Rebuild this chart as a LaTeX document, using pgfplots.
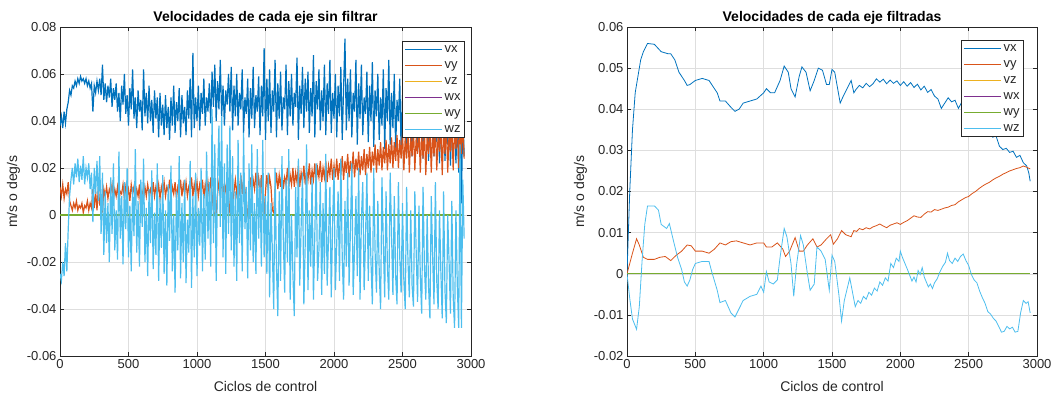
\documentclass[border=0pt]{standalone}
\usepackage{pgfplots}
\pgfplotsset{compat=1.18}
\usepackage{fontspec}
\setmainfont{Liberation Sans}
\definecolor{cvx}{HTML}{0072BD}
\definecolor{cvy}{HTML}{D95319}
\definecolor{cvz}{HTML}{EDB120}
\definecolor{cwx}{HTML}{7E2F8E}
\definecolor{cwy}{HTML}{77AC30}
\definecolor{cwz}{HTML}{4DBEEE}
\definecolor{axc}{HTML}{262626}
\pgfplotsset{
 mystyle/.style={
  width=411pt, height=329pt, scale only axis,
  axis line style={axc, line width=0.6pt},
  tick style={axc, line width=0.6pt}, major tick length=4pt,
  grid=major, major grid style={black!13, line width=0.5pt},
  ticklabel style={font=\fontsize{13}{15}\selectfont, text=axc},
  /pgf/number format/assume math mode=true,
  /pgf/number format/1000 sep={},
  scaled y ticks=false,
  xmin=0, xmax=3000, xtick={0,500,...,3000},
  xlabel={Ciclos de control}, ylabel={m/s o deg/s},
  label style={font=\fontsize{14}{16}\selectfont, text=axc},
  xlabel style={yshift=-6pt},
  title style={font=\bfseries\fontsize{14}{16}\selectfont, text=black, at={(0.5,1)}, anchor=south, yshift=-7pt},
  legend style={draw=axc, line width=0.6pt, font=\fontsize{13}{15}\selectfont, text=axc, inner sep=2pt, row sep=3.6pt},
  legend cell align=left,
  legend image code/.code={\draw[#1, line width=1pt] (0pt,0pt) -- (37pt,0pt);},
  every axis plot/.append style={line width=0.8pt},
 }}
\begin{document}
\begin{tikzpicture}
\path[use as bounding box] (0pt,0pt) rectangle (1062pt,-399pt);
\begin{axis}[mystyle, at={(60pt,-356pt)}, anchor=south west,
  ymin=-0.06, ymax=0.08, ytick={-0.06,-0.04,-0.02,0,0.02,0.04,0.06,0.08},
  yticklabel style={/pgf/number format/fixed, /pgf/number format/precision=2},
  title={Velocidades de cada eje sin filtrar},
  legend style={at={(0.985,0.957)}, anchor=north east},
  every axis plot/.append style={line width=1.2pt}]
\addplot[cvx] table[x=x, y expr=\thisrow{y}/1000] {
x y
0 38
10 42
20 37
30 44
40 39
50 45
60 48
70 53
80 51
90 55
100 54
110 57
120 55
130 58
140 56
150 59
160 57
170 58
180 56
190 58
200 55
210 57
220 54
230 56
240 44
250 55
260 52
270 57
280 53
290 58
300 51
310 64
320 49
330 56
340 48
350 55
360 50
370 58
380 46
390 54
400 49
410 56
420 44
430 52
440 40
450 55
460 47
470 60
480 43
490 51
500 38
510 54
520 45
530 62
540 41
550 50
560 37
570 53
580 44
590 49
600 36
610 62
620 42
630 52
640 39
650 55
660 40
670 49
680 35
690 53
700 41
710 50
720 33
730 52
740 38
750 47
760 34
770 51
780 37
790 46
800 32
810 50
820 38
830 55
840 35
850 48
860 40
870 54
880 33
890 51
900 39
910 46
920 34
930 53
940 41
950 58
960 33
970 69
980 37
990 50
1000 40
1010 55
1020 36
1030 52
1040 43
1050 58
1060 38
1070 50
1080 44
1090 56
1100 39
1110 61
1120 46
1130 64
1140 40
1150 57
1160 45
1170 66
1180 42
1190 55
1200 38
1210 53
1220 47
1230 60
1240 44
1250 63
1260 36
1270 55
1280 42
1290 60
1300 38
1310 52
1320 45
1330 62
1340 35
1350 50
1360 43
1370 58
1380 33
1390 54
1400 41
1410 63
1420 37
1430 51
1440 44
1450 59
1460 34
1470 55
1480 42
1490 71
1500 32
1510 58
1520 40
1530 62
1540 35
1550 53
1560 44
1570 66
1580 33
1590 56
1600 41
1610 61
1620 36
1630 50
1640 45
1650 64
1660 34
1670 57
1680 42
1690 60
1700 38
1710 52
1720 46
1730 67
1740 32
1750 55
1760 43
1770 63
1780 37
1790 58
1800 44
1810 61
1820 35
1830 54
1840 42
1850 68
1860 33
1870 57
1880 45
1890 62
1900 36
1910 53
1920 40
1930 64
1940 34
1950 56
1960 43
1970 66
1980 35
1990 52
2000 41
2010 60
2020 33
2030 55
2040 42
2050 63
2060 32
2070 54
2080 75
2090 36
2100 58
2110 40
2120 62
2130 33
2140 52
2150 44
2160 66
2170 30
2180 56
2190 41
2200 64
2210 34
2220 50
2230 43
2240 61
2250 31
2260 55
2270 40
2280 65
2290 29
2300 53
2310 42
2320 60
2330 32
2340 50
2350 38
2360 62
2370 28
2380 54
2390 40
2400 66
2410 30
2420 52
2430 37
2440 60
2450 28
2460 49
2470 40
2480 58
2490 27
2500 51
2510 36
2520 57
2530 26
2540 48
2550 38
2560 56
2570 25
2580 47
2590 35
2600 55
2610 27
2620 45
2630 37
2640 54
2650 24
2660 46
2670 33
2680 53
2690 23
2700 44
2710 36
2720 52
2730 25
2740 43
2750 31
2760 50
2770 22
2780 42
2790 34
2800 49
2810 23
2820 40
2830 30
2840 47
2850 21
2860 41
2870 33
2880 45
2890 22
2900 43
2910 18
2920 48
2930 5
2940 44
2950 25
};
\addplot[cvy] table[x=x, y expr=\thisrow{y}/1000] {
x y
0 12
10 8
20 13
30 7
40 11
50 9
60 14
70 6
80 4
90 2
100 5
110 3
120 6
130 2
140 4
150 3
160 5
170 1
180 4
190 3
200 6
210 2
220 5
230 3
240 11
250 3
260 10
270 2
280 12
290 4
300 9
310 1
320 11
330 8
340 12
350 7
360 11
370 9
380 13
390 7
400 11
410 8
420 12
430 6
440 10
450 9
460 13
470 7
480 12
490 8
500 11
510 6
520 13
530 9
540 12
550 7
560 11
570 8
580 13
590 0
600 10
610 7
620 12
630 8
640 13
650 9
660 11
670 7
680 14
690 8
700 12
710 9
720 13
730 7
740 12
750 9
760 14
770 8
780 12
790 10
800 15
810 8
820 12
830 9
840 14
850 7
860 12
870 10
880 15
890 8
900 13
910 9
920 14
930 8
940 12
950 10
960 16
970 8
980 13
990 9
1000 14
1010 8
1020 13
1030 10
1040 15
1050 7
1060 13
1070 9
1080 14
1090 8
1100 16
1110 9
1120 2
1130 0
1140 1
1150 9
1160 14
1170 8
1180 16
1190 9
1200 13
1210 10
1220 17
1230 8
1240 1
1250 0
1260 2
1270 10
1280 15
1290 9
1300 14
1310 10
1320 17
1330 9
1340 15
1350 11
1360 3
1370 0
1380 9
1390 16
1400 10
1410 15
1420 11
1430 18
1440 10
1450 16
1460 11
1470 17
1480 2
1490 0
1500 10
1510 17
1520 11
1530 16
1540 12
1550 2
1560 1
1570 11
1580 18
1590 11
1600 17
1610 12
1620 19
1630 11
1640 16
1650 13
1660 20
1670 12
1680 17
1690 13
1700 20
1710 12
1720 18
1730 14
1740 21
1750 12
1760 18
1770 14
1780 21
1790 13
1800 19
1810 15
1820 22
1830 13
1840 19
1850 15
1860 22
1870 14
1880 20
1890 16
1900 23
1910 14
1920 20
1930 16
1940 23
1950 14
1960 21
1970 17
1980 24
1990 15
2000 21
2010 16
2020 24
2030 15
2040 22
2050 17
2060 25
2070 15
2080 23
2090 18
2100 26
2110 16
2120 23
2130 18
2140 27
2150 16
2160 24
2170 19
2180 27
2190 17
2200 25
2210 19
2220 28
2230 17
2240 26
2250 20
2260 29
2270 18
2280 27
2290 21
2300 30
2310 18
2320 28
2330 21
2340 31
2350 19
2360 29
2370 22
2380 32
2390 19
2400 30
2410 22
2420 33
2430 20
2440 31
2450 23
2460 34
2470 20
2480 32
2490 24
2500 35
2510 19
2520 33
2530 24
2540 36
2550 18
2560 34
2570 25
2580 37
2590 19
2600 33
2610 26
2620 38
2630 18
2640 35
2650 24
2660 37
2670 17
2680 34
2690 26
2700 38
2710 18
2720 36
2730 25
2740 39
2750 19
2760 34
2770 27
2780 38
2790 17
2800 36
2810 26
2820 40
2830 18
2840 35
2850 27
2860 39
2870 19
2880 37
2890 28
2900 41
2910 20
2920 38
2930 26
2940 40
2950 24
};
\addplot[cvz, line width=0.8pt] coordinates {(0,0)(2950,0)};
\addplot[cwx, line width=0.8pt] coordinates {(0,0)(2950,0)};
\addplot[cwy, line width=1.4pt] coordinates {(0,0)(2950,0)};
\addplot[cwz] table[x=x, y expr=\thisrow{y}/1000] {
x y
0 -25
10 -28
20 -20
30 -26
40 -12
50 -24
60 -6
70 8
80 15
90 20
100 13
110 22
120 16
130 24
140 14
150 21
160 15
170 25
180 13
190 20
200 16
210 22
220 11
230 18
240 -3
250 20
260 9
270 23
280 6
290 25
300 -8
310 18
320 -17
330 10
340 -12
350 5
360 -20
370 16
380 -8
390 22
400 -15
410 2
420 -19
430 27
440 -10
450 8
460 -21
470 14
480 -6
490 20
500 -18
510 4
520 -24
530 12
540 -9
550 28
560 -16
570 6
580 -22
590 15
600 -5
610 24
620 -20
630 3
640 -26
650 11
660 -12
670 19
680 -23
690 1
700 -17
710 22
720 -28
730 7
740 -14
750 17
760 -25
770 2
780 -30
790 13
800 -11
810 21
820 -24
830 0
840 -33
850 10
860 -15
870 25
880 -27
890 5
900 -20
910 15
920 -29
930 -2
940 -16
950 23
960 -31
970 8
980 -18
990 18
1000 -26
1010 3
1020 -13
1030 20
1040 -24
1050 9
1060 -19
1070 27
1080 -10
1090 14
1100 -22
1110 45
1120 -12
1130 30
1140 -28
1150 15
1160 38
1170 -5
1180 42
1190 -18
1200 22
1210 -25
1220 30
1230 -8
1240 38
1250 -15
1260 25
1270 -22
1280 10
1290 -28
1300 32
1310 -12
1320 18
1330 -24
1340 35
1350 -6
1360 12
1370 -27
1380 22
1390 -15
1400 30
1410 -20
1420 5
1430 -25
1440 28
1450 -10
1460 15
1470 -22
1480 32
1490 -18
1500 8
1510 -25
1520 18
1530 -35
1540 5
1550 -15
1560 -40
1570 20
1580 -22
1590 -43
1600 10
1610 -28
1620 25
1630 -10
1640 -33
1650 15
1660 -20
1670 28
1680 -36
1690 0
1700 -25
1710 -43
1720 12
1730 -18
1740 24
1750 -30
1760 -5
1770 18
1780 -38
1790 -12
1800 30
1810 -32
1820 2
1830 -22
1840 16
1850 -36
1860 -8
1870 22
1880 -28
1890 -15
1900 14
1910 -34
1920 5
1930 -25
1940 26
1950 -30
1960 -10
1970 12
1980 -35
1990 -4
2000 20
2010 -32
2020 -12
2030 10
2040 -28
2050 24
2060 -18
2070 -36
2080 6
2090 -22
2100 18
2110 -30
2120 -6
2130 22
2140 -34
2150 -14
2160 8
2170 -26
2180 20
2190 -36
2200 -2
2210 14
2220 -32
2230 -10
2240 18
2250 -28
2260 4
2270 -20
2280 -38
2290 20
2300 -16
2310 -33
2320 6
2330 -24
2340 -40
2350 16
2360 -12
2370 -35
2380 10
2390 -22
2400 -36
2410 18
2420 -8
2430 -34
2440 8
2450 -26
2460 -38
2470 14
2480 -18
2490 -33
2500 5
2510 -28
2520 -40
2530 12
2540 -20
2550 -35
2560 2
2570 -30
2580 -39
2590 10
2600 -16
2610 -37
2620 4
2630 -26
2640 -42
2650 12
2660 -22
2670 -36
2680 0
2690 -30
2700 -44
2710 8
2720 -18
2730 -38
2740 14
2750 -28
2760 -40
2770 2
2780 -24
2790 -44
2800 10
2810 -32
2820 -46
2830 0
2840 -20
2850 -42
2860 6
2870 -35
2880 -48
2890 2
2900 -30
2910 -48
2920 30
2930 -48
2940 15
2950 -10
};
\legend{vx,vy,vz,wx,wy,wz}
\end{axis}
\begin{axis}[mystyle, at={(627pt,-356pt)}, anchor=south west, width=410pt,
  ymin=-0.02, ymax=0.06, ytick={-0.02,-0.01,0,0.01,0.02,0.03,0.04,0.05,0.06},
  yticklabel style={/pgf/number format/fixed, /pgf/number format/precision=2},
  title={Velocidades de cada eje filtradas},
  legend style={at={(0.968,0.960)}, anchor=north east}]
\addplot[cvx] coordinates {(0,0)(20,0.020)(40,0.035)(60,0.044)(80,0.048)(100,0.052)(120,0.054)(150,0.056)(200,0.0558)(250,0.054)(300,0.0535)(320,0.0535)(350,0.052)(380,0.049)(420,0.047)(440,0.0458)(460,0.046)(500,0.047)(550,0.0475)(600,0.047)(620,0.046)(660,0.044)(680,0.042)(720,0.042)(760,0.0405)(790,0.0395)(820,0.040)(850,0.0415)(900,0.042)(950,0.0425)(1000,0.044)(1020,0.045)(1050,0.044)(1080,0.044)(1120,0.047)(1150,0.0505)(1180,0.049)(1200,0.045)(1230,0.043)(1260,0.048)(1280,0.0503)(1310,0.049)(1340,0.0445)(1370,0.047)(1400,0.050)(1430,0.0495)(1460,0.046)(1480,0.046)(1500,0.0497)(1520,0.049)(1560,0.0415)(1580,0.043)(1610,0.045)(1640,0.047)(1660,0.044)(1675,0.0448)(1700,0.0458)(1725,0.0452)(1750,0.0463)(1775,0.0455)(1800,0.0462)(1825,0.0474)(1850,0.0466)(1875,0.0473)(1900,0.0462)(1925,0.0471)(1950,0.0463)(1975,0.0469)(2000,0.0458)(2025,0.0467)(2050,0.0456)(2075,0.0465)(2100,0.0453)(2125,0.0461)(2150,0.0447)(2175,0.0456)(2200,0.0441)(2225,0.0448)(2250,0.0432)(2275,0.0425)(2300,0.0402)(2325,0.0415)(2350,0.0428)(2375,0.0418)(2400,0.0422)(2425,0.0402)(2450,0.0418)(2475,0.0396)(2500,0.0405)(2525,0.0385)(2550,0.0388)(2575,0.0365)(2600,0.037)(2625,0.0348)(2650,0.0352)(2675,0.0332)(2700,0.0335)(2725,0.031)(2750,0.0302)(2775,0.0305)(2800,0.0295)(2825,0.0298)(2850,0.0283)(2875,0.0288)(2900,0.027)(2925,0.0262)(2940,0.0245)(2950,0.0225)};
\addplot[cvy] coordinates {(0,0)(40,0.005)(70,0.0085)(90,0.007)(120,0.004)(150,0.0035)(200,0.0035)(240,0.004)(280,0.0042)(320,0.0032)(360,0.0045)(400,0.0055)(440,0.007)(470,0.0068)(500,0.0055)(550,0.0055)(600,0.005)(640,0.006)(680,0.0075)(720,0.007)(760,0.0078)(800,0.008)(850,0.0075)(900,0.007)(950,0.0075)(1000,0.0075)(1020,0.0065)(1060,0.0065)(1100,0.0075)(1140,0.006)(1160,0.0042)(1190,0.0055)(1230,0.0088)(1260,0.0055)(1290,0.0055)(1320,0.007)(1360,0.0085)(1390,0.0065)(1420,0.007)(1460,0.0085)(1490,0.0095)(1510,0.0072)(1540,0.0085)(1570,0.0105)(1600,0.0095)(1640,0.009)(1650,0.0098)(1660,0.0105)(1680,0.0103)(1700,0.0110)(1725,0.0107)(1750,0.0112)(1775,0.0109)(1800,0.0114)(1825,0.0117)(1850,0.0121)(1875,0.0116)(1900,0.0112)(1925,0.0118)(1950,0.0121)(1975,0.0124)(2000,0.0120)(2025,0.0125)(2050,0.0129)(2075,0.0135)(2100,0.0141)(2125,0.0138)(2150,0.0137)(2175,0.0145)(2200,0.0151)(2225,0.0150)(2250,0.0156)(2275,0.0154)(2300,0.0157)(2325,0.0160)(2350,0.0162)(2375,0.0166)(2400,0.0168)(2425,0.0175)(2450,0.0180)(2475,0.0185)(2500,0.0188)(2525,0.0195)(2550,0.0200)(2575,0.0207)(2600,0.0213)(2625,0.0218)(2650,0.0222)(2675,0.0228)(2700,0.0233)(2725,0.0237)(2750,0.0242)(2775,0.0246)(2800,0.0250)(2825,0.0253)(2850,0.0256)(2875,0.0258)(2900,0.0262)(2925,0.0259)(2950,0.0255)};
\addplot[cvz] coordinates {(0,0)(2950,0)};
\addplot[cwx] coordinates {(0,0)(2950,0)};
\addplot[cwy, line width=1.4pt] coordinates {(0,0)(2950,0)};
\addplot[cwz] coordinates {(0,0)(20,-0.006)(40,-0.011)(70,-0.0135)(90,-0.008)(110,0.003)(130,0.012)(150,0.0165)(200,0.0165)(230,0.0155)(250,0.012)(290,0.011)(310,0.0122)(340,0.008)(370,0.004)(400,0.001)(420,-0.002)(440,-0.003)(460,-0.0015)(480,0.001)(500,0.0025)(550,0.003)(600,0.003)(620,0.0005)(660,-0.004)(680,-0.007)(720,-0.0065)(760,-0.0095)(790,-0.0105)(820,-0.0085)(850,-0.0065)(900,-0.0055)(950,-0.005)(980,-0.003)(1000,-0.0045)(1020,0.0005)(1040,-0.002)(1070,-0.0025)(1100,-0.0015)(1120,0.004)(1150,0.011)(1170,0.009)(1200,0.0025)(1220,-0.0055)(1240,0.002)(1270,0.0093)(1290,0.007)(1320,0.0)(1340,-0.004)(1370,-0.0025)(1390,0.0065)(1420,0.0055)(1450,0.0035)(1480,-0.004)(1500,0.0045)(1520,0.003)(1550,-0.005)(1570,-0.0115)(1590,-0.0065)(1630,-0.001)(1650,-0.0045)(1670,-0.008)(1690,-0.0065)(1710,-0.0072)(1730,-0.0055)(1750,-0.0062)(1770,-0.0045)(1790,-0.0052)(1810,-0.0035)(1830,-0.0042)(1850,-0.002)(1870,-0.0028)(1890,-0.001)(1910,-0.0018)(1930,0.0025)(1950,0.0015)(1970,0.0038)(1990,0.003)(2000,0.0055)(2015,0.004)(2030,0.0028)(2050,0.0012)(2070,-0.0005)(2085,-0.0018)(2100,-0.0008)(2115,-0.002)(2130,0.0008)(2145,-0.0002)(2160,0.0015)(2175,-0.0008)(2190,-0.002)(2205,-0.0032)(2220,-0.0025)(2235,-0.0036)(2250,-0.0022)(2270,-0.0012)(2290,0.0005)(2310,0.0018)(2330,0.0028)(2345,0.005)(2360,0.0032)(2380,0.0025)(2400,0.0038)(2420,0.003)(2440,0.0042)(2460,0.0048)(2480,0.0032)(2500,0.002)(2520,-0.0002)(2540,-0.0015)(2560,-0.0022)(2580,-0.0042)(2600,-0.0058)(2620,-0.0072)(2640,-0.0092)(2660,-0.0098)(2680,-0.0108)(2700,-0.0115)(2720,-0.0128)(2740,-0.0142)(2760,-0.014)(2780,-0.0128)(2800,-0.0134)(2820,-0.013)(2840,-0.0142)(2860,-0.014)(2880,-0.0095)(2900,-0.0065)(2920,-0.0072)(2935,-0.0068)(2950,-0.0095)};
\legend{vx,vy,vz,wx,wy,wz}
\end{axis}
\end{tikzpicture}
\end{document}
